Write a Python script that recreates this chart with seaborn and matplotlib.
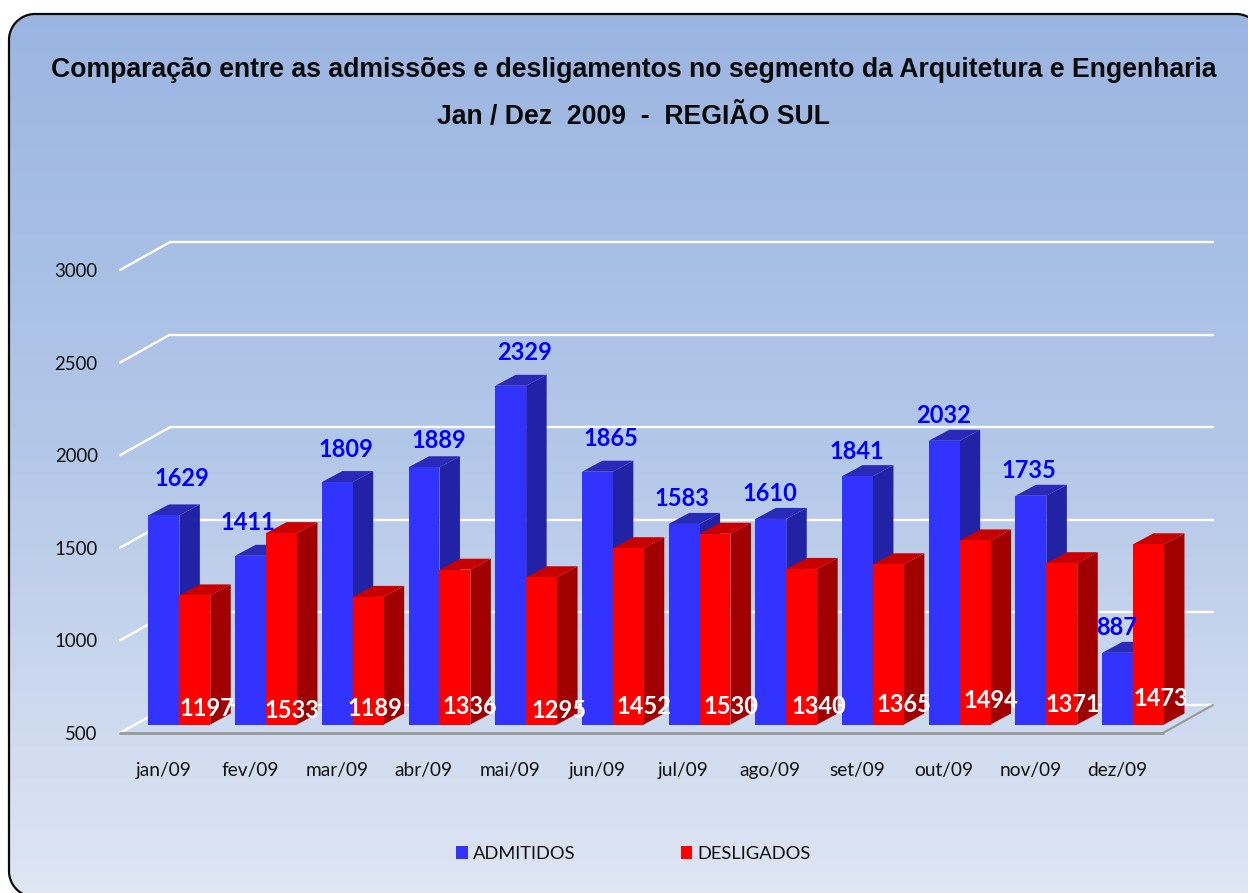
import matplotlib
matplotlib.use("Agg")
import numpy as np
import pandas as pd
import seaborn as sns
import matplotlib.pyplot as plt
from matplotlib.patches import Polygon
from matplotlib.transforms import Affine2D
from matplotlib.colors import LinearSegmentedColormap

months = ["jan/09", "fev/09", "mar/09", "abr/09", "mai/09", "jun/09",
          "jul/09", "ago/09", "set/09", "out/09", "nov/09", "dez/09"]
admitidos = [1629, 1411, 1809, 1889, 2329, 1865, 1583, 1610, 1841, 2032, 1735, 887]
desligados = [1197, 1533, 1189, 1336, 1295, 1452, 1530, 1340, 1365, 1494, 1371, 1473]
yticks = [500, 1000, 1500, 2000, 2500, 3000]
title1 = "Comparação entre as admissões e desligamentos no segmento da Arquitetura e Engenharia"
title2 = "Jan / Dez  2009  -  REGIÃO SUL"

# label nudges in pixels (hand placed in the reference)
adm_nudge = [(18, 37), (-3, 33), (9, 33), (15, 27), (14, 33), (14, 33),
             (-2, 25), (-1, 25), (-1, 25), (-1, 25), (-2, 25), (-1, 25)]
des_x_nudge = [12, 10, 7, 15, 17, 16, 16, 17, 16, 16, 11, 12]
des_y_px = [709, 711, 709, 707, 710, 706, 707, 707, 704, 701, 704, 699]

W, H = 1248, 893
BLUE, RED = "#3333FF", "#FF0000"
BLUE_SIDE, RED_SIDE = "#2222A6", "#A00000"
BLUE_TOP, RED_TOP = "#2A2AB8", "#C80000"


def rounded_rect(x0, y0, x1, y1, r, n=24):
    """Outline of a rounded rectangle as a plain polyline."""
    t = np.linspace(0, np.pi / 2, n)
    corners = [
        (x0 + r - r * np.cos(t), y0 + r - r * np.sin(t)),
        (x1 - r + r * np.sin(t), y0 + r - r * np.cos(t)),
        (x1 - r + r * np.cos(t), y1 - r + r * np.sin(t)),
        (x0 + r - r * np.sin(t), y1 - r + r * np.cos(t)),
    ]
    return np.vstack([np.column_stack(c) for c in corners])


sns.set_theme(style="white")
plt.rcParams["font.family"] = ["Lato", "DejaVu Sans"]
fig = plt.figure(figsize=(W / 100, H / 100), dpi=100, facecolor="white")

# rounded gradient panel
bg = fig.add_axes([0, 0, 1, 1], zorder=0)
bg.set_xlim(0, W); bg.set_ylim(H, 0); bg.axis("off")
cmap = LinearSegmentedColormap.from_list("bg", ["#9AB5E2", "#B3C7E8", "#DFE6F4"])
grad = bg.imshow(np.linspace(0, 1, 256).reshape(-1, 1), extent=[0, W, H, 0],
                 cmap=cmap, aspect="auto", zorder=1)
panel = Polygon(rounded_rect(9, 14, 1262, 897, 26), closed=True,
                fc="none", ec="#0A0A0A", lw=1.6, zorder=3, clip_on=True)
bg.add_patch(panel)
grad.set_clip_path(panel)
bg.set_xlim(0, W); bg.set_ylim(H, 0)

ax = fig.add_axes([120 / W, (H - 733) / H, (1163 - 120) / W, (733 - 270) / H], zorder=2)
ax.patch.set_alpha(0)

df = pd.DataFrame({
    "mes": months * 2,
    "valor": admitidos + desligados,
    "serie": ["ADMITIDOS"] * 12 + ["DESLIGADOS"] * 12,
})
sns.barplot(data=df, x="mes", y="valor", hue="serie", order=months,
            palette={"ADMITIDOS": BLUE, "DESLIGADOS": RED}, width=0.713, gap=0,
            ax=ax, legend=True, saturation=1, edgecolor="none")
ax.set_xlim(-0.5, 11.53)
ax.set_ylim(500, 3000)
ax.set_yticks(yticks)
ax.set_xlabel(""); ax.set_ylabel("")
sns.despine(ax=ax, left=True, bottom=True)
ax.tick_params(axis="y", length=0, pad=16, labelsize=13.4, labelcolor="#111111")
ax.tick_params(axis="x", length=0, pad=21, labelsize=13.8, labelcolor="#111111")

fig.canvas.draw()
BX, BY = 16.0, 8.5      # bars stand this far behind the front plane
DX, DY = 20.5, 11.0     # bar depth
WX, WY = 50.0, 28.0     # wall depth
to_px = ax.transData.transform
disp = Affine2D()       # display-space polygons

# walls, floor
x0, x1 = -0.5, 11.53
for v in yticks:
    (ax_l, ay), (ax_r, _) = to_px([(x0, v), (x1, v)])
    ax.add_line(plt.Line2D([ax_l, ax_l + WX], [ay, ay + WY], transform=disp, color="white", lw=1.7, zorder=1, clip_on=False))
    if v == 500:
        ax.add_line(plt.Line2D([ax_r, ax_r + WX], [ay, ay + WY], transform=disp, color="#999999", lw=1.5, zorder=1.5, clip_on=False))
        ax.add_line(plt.Line2D([ax_l, ax_r], [ay, ay], transform=disp, color="#999999", lw=2, zorder=1.5, clip_on=False))
    ax.add_line(plt.Line2D([ax_l + WX, ax_r + WX], [ay + WY, ay + WY], transform=disp, color="white", lw=1.7, zorder=1, clip_on=False))

# 3D bars: offset seaborn's own fronts and add side + top faces
shift = ax.transData + Affine2D().translate(BX, BY)
for c, (cont, side, top) in enumerate(zip(ax.containers, (BLUE_SIDE, RED_SIDE), (BLUE_TOP, RED_TOP))):
    for i, bar in enumerate(cont):
        z = 3 + i * 2 + c
        v = bar.get_height()
        bar.set_y(500)
        bar.set_height(v - 500)
        bar.set_transform(shift)
        bar.set_zorder(z + 0.5)
        bar.set_clip_on(False)
        xl, xr = bar.get_x(), bar.get_x() + bar.get_width()
        (pl, pb), (pr, pt) = shift.transform([(xl, 500), (xr, v)])
        ax.add_patch(Polygon([(pr, pb), (pr + DX, pb + DY), (pr + DX, pt + DY), (pr, pt)],
                             transform=disp, fc=side, ec="none", zorder=z, clip_on=False))
        ax.add_patch(Polygon([(pl, pt), (pr, pt), (pr + DX, pt + DY), (pl + DX, pt + DY)],
                             transform=disp, fc=top, ec="none", zorder=z, clip_on=False))

# data labels
lab_font = dict(fontsize=17.0, fontweight="bold", ha="center", va="center",
                annotation_clip=False, zorder=60)
for bar, v, (nx, ny) in zip(ax.containers[0], admitidos, adm_nudge):
    ax.annotate(str(v), (bar.get_x() + bar.get_width() / 2, v), xytext=(BX + nx, BY + ny),
                textcoords="offset pixels", color="#0000FF", **lab_font)
for bar, v, nx, py in zip(ax.containers[1], desligados, des_x_nudge, des_y_px):
    ax.annotate(str(v), (bar.get_x() + bar.get_width() / 2, 500), xytext=(BX + nx, (733 - py)),
                textcoords="offset pixels", color="white", **lab_font)

# legend
leg = ax.legend(loc="center left", bbox_to_anchor=(456 / W, (H - 854) / H),
                bbox_transform=fig.transFigure, ncol=2, frameon=False,
                fontsize=13.2, handlelength=0.65, handleheight=0.65, handletextpad=0.25,
                columnspacing=5.75, borderpad=0, borderaxespad=0, labelcolor="#111111")

# titles
fig.text(633.5 / W, (H - 70) / H, title1, ha="center", va="center", fontsize=19.17,
         fontweight="bold", family="Liberation Sans", color="#0A0A0A", zorder=10)
fig.text(633.5 / W, (H - 117) / H, title2, ha="center", va="center", fontsize=19.17,
         fontweight="bold", family="Liberation Sans", color="#0A0A0A", zorder=10)

fig.savefig("out.png", dpi=100, facecolor="white")
